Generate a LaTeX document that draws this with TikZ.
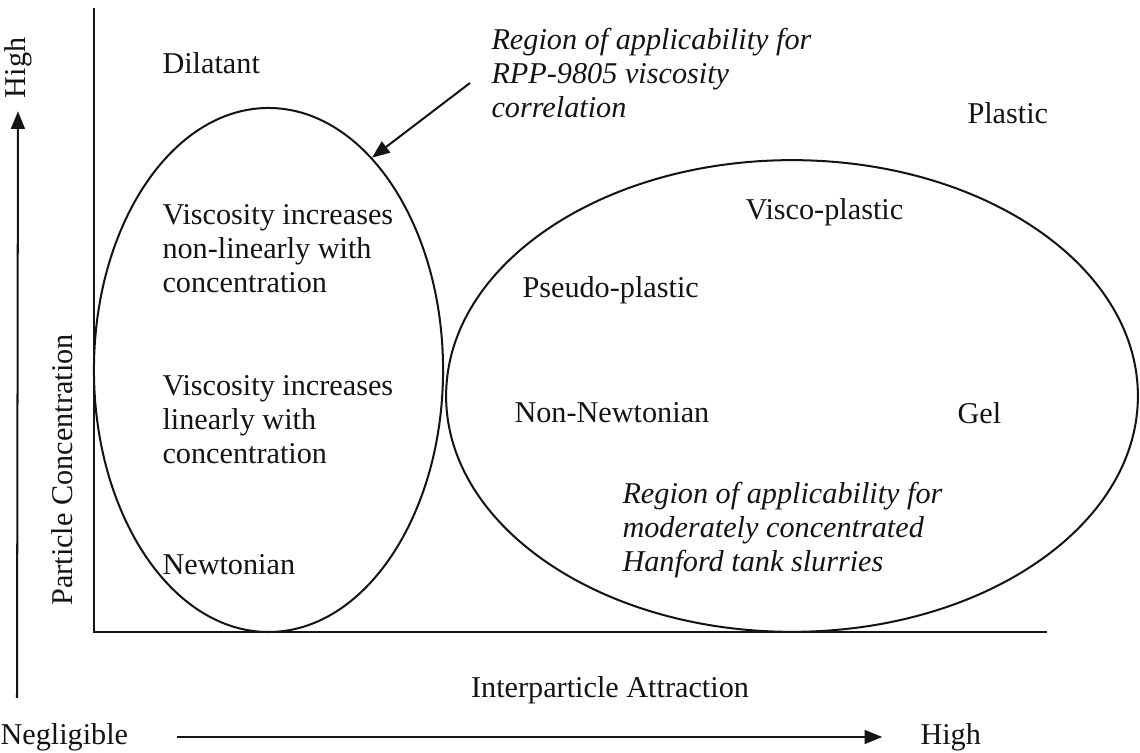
\documentclass[tikz,border=0pt]{standalone}
\usepackage{fontspec}
\setmainfont{Liberation Serif}
\usetikzlibrary{arrows.meta,shapes.geometric,positioning}
\definecolor{RheoInk}{HTML}{141414}

\begin{document}
\begin{tikzpicture}[x=0.1395cm,y=0.1395cm,
    lbl/.style={anchor=west,inner sep=0pt,text=RheoInk,align=left,
      font=\fontsize{12}{13.5}\selectfont},
    note/.style={lbl,font=\fontsize{12}{13.5}\selectfont\itshape},
    region/.style={ellipse,draw=RheoInk,line width=0.8pt,inner sep=0pt},
    axisline/.style={RheoInk,line width=1.1pt},
    axisarrow/.style={RheoInk,line width=0.8pt,-{Triangle[length=7pt,width=5.5pt]}}]
  \useasboundingbox (0,0) rectangle (114,75.3);

  % frame of the chart
  \coordinate (origin) at (9.4,12.1);
  \coordinate (ytop) at (9.4,74.5);
  \coordinate (xend) at (104.7,12.1);
  \draw[axisline] (ytop) -- (origin) -- (xend);

  % the two regions
  \node[region,minimum width=4.87cm,minimum height=7.31cm]
    (rppregion) at (26.85,38.3) {};
  \node[region,minimum width=9.65cm,minimum height=6.58cm]
    (hanford) at (79.2,35.7) {};

  % labels inside and around the regions
  \node[lbl] (dilatant) at (16.2,69.0) {Dilatant};
  \node[lbl] (nonlin) at (16.2,50.4)
    {Viscosity increases\\non-linearly with\\concentration};
  \node[lbl] (lin) at (16.2,33.3)
    {Viscosity increases\\linearly with\\concentration};
  \node[lbl] (newtonian) at (16.2,18.8) {Newtonian};
  \node[lbl] (plastic) at (96.7,64.0) {Plastic};
  \node[lbl] (viscoplastic) at (74.5,54.1) {Visco-plastic};
  \node[lbl] (pseudo) at (52.2,46.3) {Pseudo-plastic};
  \node[lbl] (nonnewt) at (51.4,34.0) {Non-Newtonian};
  \node[lbl] (gel) at (95.7,34.0) {Gel};

  \node[note] (rppnote) at (49.1,68.0)
    {Region of applicability for\\RPP-9805 viscosity\\correlation};
  \node[note] (hanfordnote) at (62.2,22.3)
    {Region of applicability for\\moderately concentrated\\Hanford tank slurries};

  \coordinate (rpptail) at (47.0,67.0);
  \draw[axisarrow] (rpptail) -- (rppregion.64);

  % axis captions
  \node[lbl,anchor=center] (xcaption) at (61.0,6.3) {Interparticle Attraction};
  \node[lbl] (xlow) at (0,1.6) {Negligible};
  \node[lbl] (xhigh) at (92.0,1.6) {High};
  \draw[axisarrow,shorten <=19pt,shorten >=15pt] (xlow.east) -- (xhigh.west);

  \node[lbl,anchor=center,rotate=90] (ycaption) at (6.2,28.3) {Particle Concentration};
  \node[lbl,anchor=center,rotate=90] (yhigh) at (1.8,68.5) {High};
  \coordinate (ylow) at (1.7,5.5);
  \draw[axisarrow,shorten >=5pt] (ylow) -- (yhigh.west);
\end{tikzpicture}
\end{document}
